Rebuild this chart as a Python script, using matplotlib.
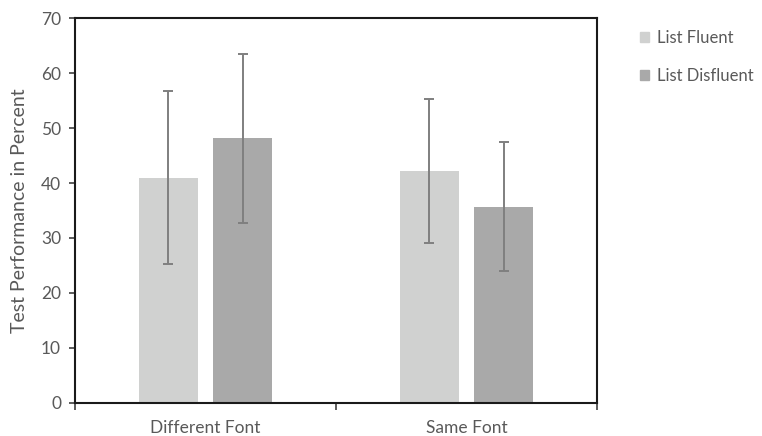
import numpy as np
import matplotlib
matplotlib.use('Agg')
import matplotlib.pyplot as plt
from matplotlib.patches import Patch
from matplotlib.ticker import FixedLocator

# data
categories = ['Different Font', 'Same Font']
series = ['List Fluent', 'List Disfluent']
fluent = [41.0, 42.2]
disfluent = [48.1, 35.7]
fluent_err = [15.8, 13.1]
disfluent_err = [15.4, 11.7]

colors = ['#D0D1D0', '#A9A9A9']
text_col = '#595959'

plt.rcParams['font.family'] = ['Lato', 'DejaVu Sans']

fig = plt.figure(figsize=(7.62, 4.36), dpi=100)
ax = fig.add_axes([0.0984, 0.0757, 0.685, 0.883])

x = np.arange(len(categories))
w = 0.226
off = 0.142
ekw = dict(ecolor='#7F7F7F', elinewidth=1.4, capsize=3.8, capthick=1.4)
ax.bar(x - off, fluent, w, color=colors[0], yerr=fluent_err, error_kw=ekw)
ax.bar(x + off, disfluent, w, color=colors[1], yerr=disfluent_err, error_kw=ekw)

ax.set_xlim(-0.5, 1.5)
ax.set_ylim(0, 70)
ax.set_yticks(range(0, 71, 10))
ax.set_xticks([-0.5, 0.5, 1.5])
ax.set_xticklabels([])
ax.xaxis.set_minor_locator(FixedLocator(x))
ax.set_xticks(x, categories, minor=True)
ax.tick_params(axis='x', which='major', length=5, width=1.2, color='#404040')
ax.tick_params(axis='x', which='minor', length=0, pad=12, labelsize=12.5, labelcolor=text_col)
ax.tick_params(axis='y', length=4, width=1.2, color='#404040', pad=6,
               labelsize=12.5, labelcolor=text_col)

for s in ax.spines.values():
    s.set_color('#1a1a1a')
    s.set_linewidth(1.5)

ax.set_ylabel('Test Performance in Percent', fontsize=14, color=text_col, labelpad=9)

handles = [Patch(color=c) for c in colors]
fig.legend(handles, series, loc='upper left', bbox_to_anchor=(0.82, 0.965),
           frameon=False, fontsize=12, labelcolor=text_col,
           handlelength=0.55, handleheight=0.55, handletextpad=0.45, labelspacing=1.3)

fig.savefig('out.png', dpi=100)
